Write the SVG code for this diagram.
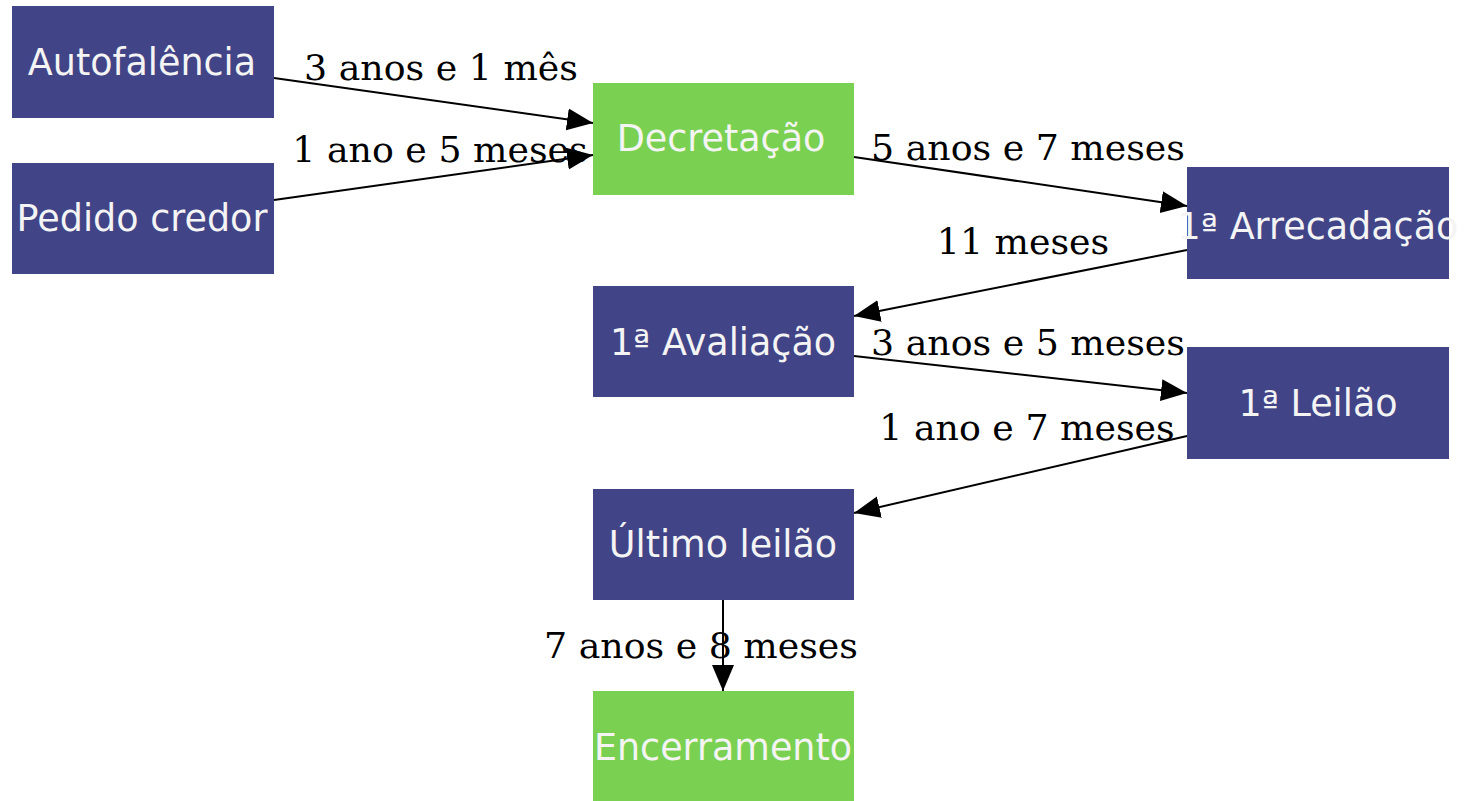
<svg xmlns="http://www.w3.org/2000/svg" width="1466" height="801" viewBox="0 0 1466 801">
<style>
.n rect{stroke:none}
.b{fill:#414487}
.g{fill:#7AD151}
.t{font-family:"DejaVu Sans",sans-serif;font-size:36.5px;fill:#f4f4f4;text-anchor:middle}
.l{font-family:"DejaVu Serif",serif;font-size:36.3px;fill:#000;text-anchor:middle}
.e{stroke:#000;stroke-width:2;fill:none}
</style>
<defs>
<marker id="ah" markerUnits="userSpaceOnUse" markerWidth="28" markerHeight="24" refX="26" refY="11" orient="auto">
<path d="M0,0 L26,11 L0,22 Z" fill="#000"/>
</marker>
</defs>
<rect width="1466" height="801" fill="#fff"/>
<g id="edges">
<line class="e" x1="274" y1="78" x2="593" y2="123" marker-end="url(#ah)"/>
<line class="e" x1="274" y1="200" x2="593" y2="155" marker-end="url(#ah)"/>
<line class="e" x1="854" y1="157" x2="1187" y2="206" marker-end="url(#ah)"/>
<line class="e" x1="1187" y1="250" x2="854" y2="316" marker-end="url(#ah)"/>
<line class="e" x1="854" y1="356" x2="1187" y2="393" marker-end="url(#ah)"/>
<line class="e" x1="1187" y1="436" x2="854" y2="513" marker-end="url(#ah)"/>
<line class="e" x1="723" y1="600" x2="723" y2="691" marker-end="url(#ah)"/>
</g>
<g id="n-autofalencia" class="n"><rect class="b" x="12" y="6" width="262" height="112"/><text class="t" x="142" y="75">Autofalência</text></g>
<g id="n-pedido" class="n"><rect class="b" x="12" y="163" width="262" height="111"/><text class="t" x="142" y="231">Pedido credor</text></g>
<g id="n-decretacao" class="n"><rect class="g" x="593" y="83" width="261" height="112"/><text class="t" x="721" y="151">Decretação</text></g>
<g id="n-arrecadacao" class="n"><rect class="b" x="1187" y="167" width="262" height="112"/><text class="t" x="1318" y="239">1ª Arrecadação</text></g>
<g id="n-avaliacao" class="n"><rect class="b" x="593" y="286" width="261" height="111"/><text class="t" x="723" y="355">1ª Avaliação</text></g>
<g id="n-leilao" class="n"><rect class="b" x="1187" y="347" width="262" height="112"/><text class="t" x="1318" y="416">1ª Leilão</text></g>
<g id="n-ultimo" class="n"><rect class="b" x="593" y="489" width="261" height="111"/><text class="t" x="723" y="557">Último leilão</text></g>
<g id="n-encerramento" class="n"><rect class="g" x="593" y="691" width="261" height="112"/><text class="t" x="723" y="760">Encerramento</text></g>
<g id="labels">
<text class="l" x="441" y="80">3 anos e 1 mês</text>
<text class="l" x="440" y="162">1 ano e 5 meses</text>
<text class="l" x="1028" y="160">5 anos e 7 meses</text>
<text class="l" x="1023" y="254">11 meses</text>
<text class="l" x="1028" y="355">3 anos e 5 meses</text>
<text class="l" x="1027" y="440">1 ano e 7 meses</text>
<text class="l" x="701" y="658">7 anos e 8 meses</text>
</g>
</svg>
